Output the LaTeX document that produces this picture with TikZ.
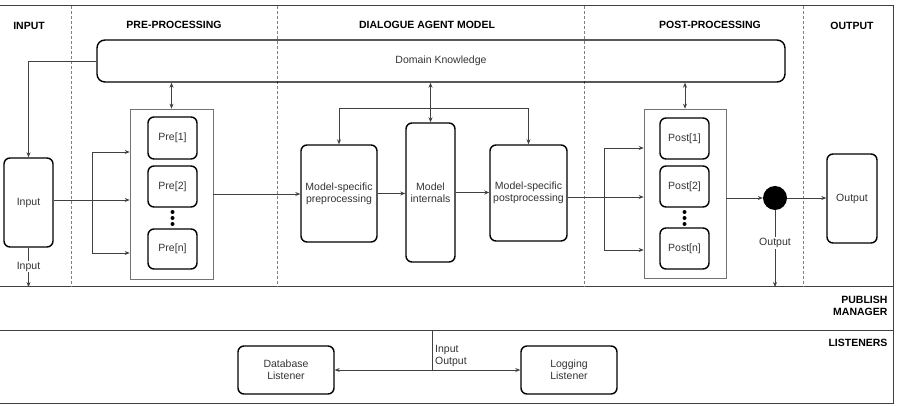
\documentclass[tikz,border=0pt]{standalone}
\usepackage{fontspec}
\setmainfont{Liberation Sans}
\usetikzlibrary{positioning,arrows.meta,calc}

\begin{document}
\begin{tikzpicture}[x=1pt,y=-1pt,
                    every node/.style={font=\fontsize{10.5}{12}\selectfont,text=black!80},
                    block/.style={draw=black,rounded corners=6pt,line width=1.4pt,inner sep=0pt,align=center},
                    holder/.style={draw=black!55,line width=0.6pt,inner sep=0pt},
                    lanetitle/.style={font=\fontsize{10.5}{12}\selectfont\bfseries,text=black,align=right},
                    lane/.style={draw=black!75,line width=1pt},
                    divider/.style={draw=black!50,densely dashed,line width=0.6pt},
                    link/.style={draw=black!75,line width=0.7pt},
                    tip/.style={-{Stealth[length=5pt,width=4pt]}},
                    twotip/.style={{Stealth[length=5pt,width=4pt]}-{Stealth[length=5pt,width=4pt]}}
                   ]
  \useasboundingbox (0,0) rectangle (903,406);

  % frame and lanes
  \draw[lane] (0,6) -- (893,6) -- (893,403) -- (0,403);
  \draw[lane] (0,287) -- (893,287);
  \draw[lane] (0,331) -- (893,331);
  \foreach \x in {71,277,584,803}
    \draw[divider] (\x,6) -- (\x,287);

  % lane titles
  \node[lanetitle] (tin)   at (29,26)  {INPUT};
  \node[lanetitle] (tpre)  at (174,25) {PRE-PROCESSING};
  \node[lanetitle] (tdam)  at (427,25) {DIALOGUE AGENT MODEL};
  \node[lanetitle] (tpost) at (710,25) {POST-PROCESSING};
  \node[lanetitle] (tout)  at (852,26) {OUTPUT};
  \node[lanetitle,anchor=north east] (tpm)  at (891,293) {PUBLISH\\MANAGER};
  \node[lanetitle,anchor=north east] (tlst) at (891,336) {LISTENERS};

  % boxes
  \node[block,rounded corners=8pt,minimum width=688pt,minimum height=42pt] (dk) at (441,61) {Domain Knowledge};
  \node[block,minimum width=49pt,minimum height=89pt] (in) at (28.5,202.5) {Input};

  \node[holder,minimum width=83pt,minimum height=170pt] (prebox) at (171.5,194) {};
  \node[block,minimum width=49pt,minimum height=42pt] (pre1) at (172.5,138) {Pre[1]};
  \node[block,minimum width=49pt,minimum height=41pt] (pre2) at (172.5,186.5) {Pre[2]};
  \node[block,minimum width=49pt,minimum height=40pt] (pren) at (172.5,249) {Pre[n]};

  \node[block,minimum width=76pt,minimum height=97pt] (msp) at (339,193.5) {Model-specific\\preprocessing};
  \node[block,minimum width=49pt,minimum height=139pt] (mi) at (430.5,192.5) {Model\\internals};
  \node[block,minimum width=77pt,minimum height=96pt] (mspost) at (528.5,193) {Model-specific\\postprocessing};

  \node[holder,minimum width=82pt,minimum height=169pt] (postbox) at (685,193.5) {};
  \node[block,minimum width=49pt,minimum height=41pt] (post1) at (684.5,138.5) {Post[1]};
  \node[block,minimum width=49pt,minimum height=41pt] (post2) at (684.5,186.5) {Post[2]};
  \node[block,minimum width=49pt,minimum height=41pt] (postn) at (684.5,248.5) {Post[n]};

  \node[circle,fill=black,minimum size=24pt,inner sep=0pt] (hub) at (775,198) {};
  \node[block,minimum width=50pt,minimum height=89pt] (out) at (852,198.5) {Output};

  \node[block,minimum width=96pt,minimum height=48pt] (db)  at (286,370) {Database\\Listener};
  \node[block,minimum width=96pt,minimum height=48pt] (log) at (569,370) {Logging\\Listener};

  % dots between the stages
  \foreach \y in {212,218,224} {
    \fill (172.5,\y) circle (2pt);
    \fill (684.5,\y) circle (2pt);
  }

  % helper points
  \coordinate (fa) at (92,152);
  \coordinate (fb) at (92,253);
  \coordinate (fc) at (604,148);
  \coordinate (fd) at (604,250);
  \coordinate (bar) at (431,108);
  \coordinate (indown) at (28.5,287);
  \coordinate (outdown) at (775,287);
  \coordinate (lst) at (432,331);
  \coordinate (ljoin) at (432,370);

  % connectors
  \draw[link,tip] (dk.west) -| (in.north);
  \draw[link,twotip] (prebox.north |- dk.south) -- (prebox.north);
  \draw[link,twotip] (mi.north |- dk.south) -- (mi.north);
  \draw[link,twotip] (postbox.north |- dk.south) -- (postbox.north);
  \draw[link,tip] (bar -| msp.north) -- (msp.north);
  \draw[link] (bar -| msp.north) -- (bar -| mspost.north);
  \draw[link,tip] (bar -| mspost.north) -- (mspost.north);

  \draw[link,tip] (in.east |- 0,200) -- (prebox.west |- 0,200);
  \draw[link] (fa) -- (fb);
  \draw[link,tip] (fa) -- (fa -| prebox.west);
  \draw[link,tip] (fb) -- (fb -| prebox.west);
  \draw[link,tip] (in.south) -- (indown) node[pos=0.48,fill=white,inner sep=1pt] {Input};

  \draw[link,tip] (prebox.east) -- (prebox.east -| msp.west);
  \draw[link,tip] (msp.east) -- (msp.east -| mi.west);
  \draw[link,tip] (mi.east) -- (mi.east -| mspost.west);
  \draw[link,tip] (mspost.east |- 0,197) -- (postbox.west |- 0,197);
  \draw[link] (fc) -- (fd);
  \draw[link,tip] (fc) -- (fc -| postbox.west);
  \draw[link,tip] (fd) -- (fd -| postbox.west);

  \draw[link,tip] (postbox.east |- hub) -- (hub.west);
  \draw[link,tip] (hub.east) -- (out.west |- hub);
  \draw[link,tip] (hub.south) -- (outdown) node[pos=0.43,fill=white,inner sep=1pt] {Output};

  \draw[link] (lst) -- (ljoin);
  \draw[link,tip] (ljoin) -- (db.east |- ljoin);
  \draw[link,tip] (ljoin) -- (log.west |- ljoin);
  \node[anchor=west,align=left,inner sep=1pt] (io) at (434,355.5) {Input\\Output};
\end{tikzpicture}
\end{document}
